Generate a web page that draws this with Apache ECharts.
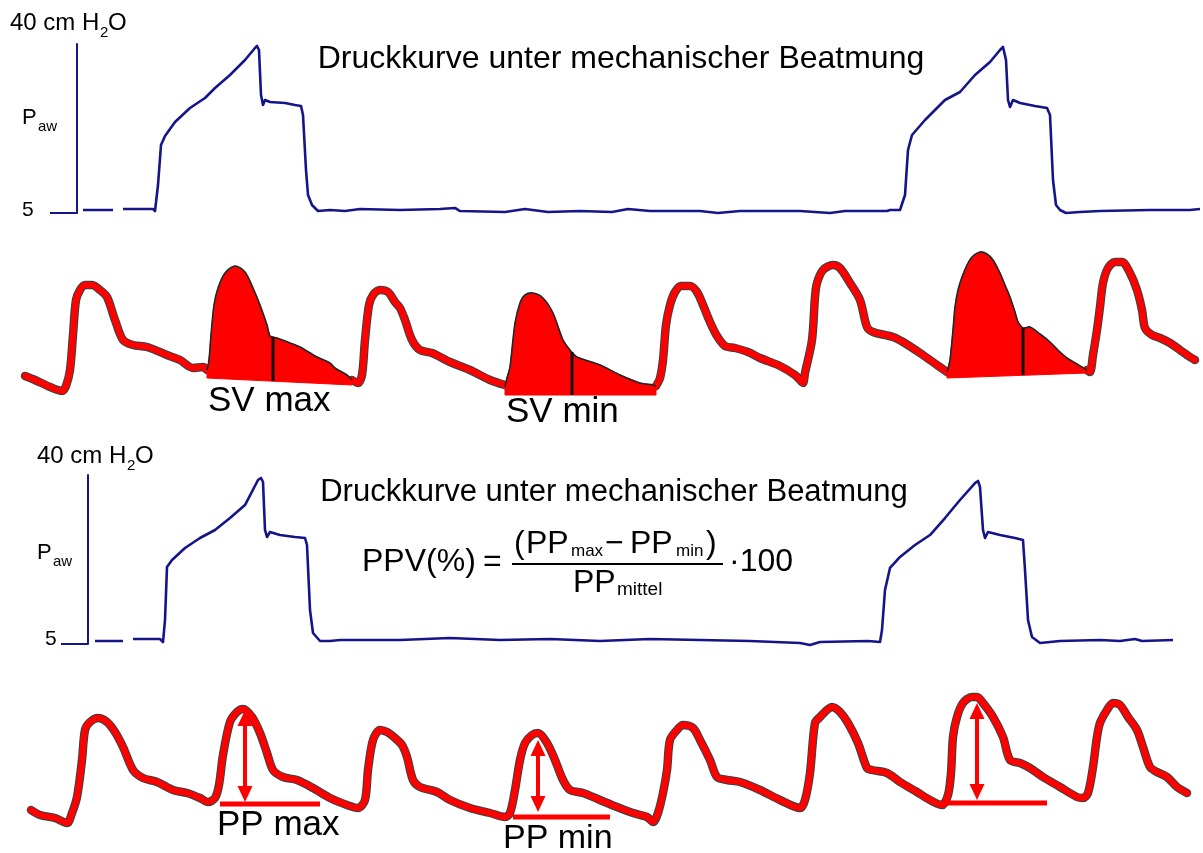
<!DOCTYPE html>
<html><head><meta charset="utf-8">
<script src="https://cdn.jsdelivr.net/npm/echarts@6/dist/echarts.min.js"></script>
<style>html,body{margin:0;padding:0;background:#fff}#c{width:1203px;height:853px}</style>
</head><body><div id="c"></div>
<script>
// ---- Data: time in s, airway pressure in cm H2O, arterial pressure in mmHg ----
const pawTop = [[0.83,5.62],[1.13,5.62],[1.18,'-'],[1.23,5.83],[1.53,5.83],[1.55,5.41],[1.58,10.80],[1.61,19.08],[1.65,20.95],[1.75,23.85],[1.90,26.75],[2.05,28.82],[2.15,30.89],[2.30,33.58],[2.45,36.69],[2.55,39.17],[2.57,39.59],[2.59,38.76],[2.61,29.44],[2.63,27.37],[2.65,28.40],[2.70,27.99],[2.85,27.78],[2.95,27.37],[3.01,27.16],[3.03,25.30],[3.06,13.91],[3.08,8.73],[3.12,6.66],[3.18,5.41],[3.30,5.62],[3.45,5.41],[3.60,5.83],[4.00,5.62],[4.40,5.83],[4.55,6.04],[4.60,5.41],[5.05,5.21],[5.25,5.83],[5.48,5.21],[5.80,5.41],[6.12,5.21],[6.28,5.83],[6.50,5.41],[7.00,5.41],[7.18,5.00],[7.40,5.41],[8.00,5.41],[8.30,5.00],[8.45,5.41],[8.87,5.41],[8.90,5.62],[9.00,5.62],[9.02,5.21],[9.05,8.73],[9.08,18.05],[9.12,21.15],[9.25,24.26],[9.45,28.40],[9.60,30.06],[9.75,33.58],[9.90,36.27],[10.00,38.76],[10.03,39.38],[10.06,36.69],[10.08,28.40],[10.10,26.95],[10.13,28.40],[10.20,27.78],[10.35,27.16],[10.47,26.75],[10.50,25.30],[10.53,11.83],[10.56,6.66],[10.60,5.62],[10.66,5.00],[10.80,5.21],[11.00,5.41],[11.50,5.62],[11.90,5.62],[12.00,5.83]];

const pawBottom = [[0.95,5.62],[1.23,5.62],[1.28,'-'],[1.33,6.04],[1.60,6.04],[1.63,5.41],[1.65,9.97],[1.67,20.95],[1.72,22.40],[1.85,24.88],[2.00,26.95],[2.15,28.61],[2.30,31.09],[2.45,33.78],[2.58,38.96],[2.61,39.38],[2.63,38.55],[2.65,28.61],[2.67,27.16],[2.70,28.19],[2.80,27.57],[2.95,27.16],[3.05,26.95],[3.07,25.50],[3.10,12.04],[3.13,7.28],[3.20,5.62],[3.30,5.62],[3.40,5.83],[4.00,5.83],[4.50,6.24],[5.00,5.83],[5.50,6.04],[6.00,5.62],[6.50,6.04],[7.00,5.83],[7.50,5.62],[8.00,5.21],[8.10,4.79],[8.20,5.41],[8.68,5.62],[8.70,5.83],[8.80,5.41],[8.82,7.90],[8.85,16.18],[8.90,20.74],[9.00,23.02],[9.15,25.50],[9.30,27.57],[9.45,31.09],[9.60,34.82],[9.75,38.34],[9.78,38.76],[9.80,37.51],[9.83,28.61],[9.85,26.95],[9.88,28.19],[10.00,27.57],[10.15,26.95],[10.23,26.54],[10.25,20.32],[10.28,9.97],[10.32,6.45],[10.40,5.21],[10.60,5.62],[11.00,5.83],[11.20,5.62],[11.35,6.04],[11.42,5.62],[11.73,5.83]];

// Arterial pressure (stroke volume panel), split into plain trace segments and shaded beats
const svSeg1 = [[0.25,72],[0.35,70],[0.50,66.5],[0.62,64.5],[0.66,67],[0.70,75],[0.73,92.5],[0.76,110],[0.80,115],[0.85,117.5],[0.92,117.5],[1.00,115],[1.07,111.5],[1.15,100],[1.23,90],[1.33,87.5],[1.47,86.5],[1.67,82.5],[1.80,80],[1.93,76],[2.03,76.5],[2.07,75]];
const svPulse1 = [[2.07,75],[2.09,80],[2.11,92.5],[2.14,107.5],[2.18,116],[2.25,123.5],[2.35,127],[2.45,124],[2.53,116],[2.60,107.5],[2.67,97.5],[2.70,92],[2.77,91],[2.90,88.5],[3.00,86.5],[3.17,81.5],[3.30,78.5],[3.35,76],[3.47,72.5],[3.52,70]];
const svBase1 = [[3.52,67.5],[2.07,71]];
const svDiv1 = [2.73,91.5,69.5];
const svSeg2 = [[3.52,70],[3.58,68.5],[3.62,72.5],[3.65,90],[3.69,107.5],[3.73,112.5],[3.80,115],[3.88,114],[3.95,109],[4.00,106],[4.05,100],[4.12,90],[4.20,85],[4.32,83.5],[4.50,79],[4.70,75],[4.90,70],[5.05,67.5]];
const svPulse2 = [[5.05,66.5],[5.07,71],[5.10,76.5],[5.15,98.5],[5.20,108.5],[5.25,112.5],[5.33,113.5],[5.43,111],[5.53,103.5],[5.63,90],[5.70,85],[5.77,81.5],[6.00,77.5],[6.20,72.5],[6.40,68.5],[6.53,67.5],[6.56,67]];
const svBase2 = [[6.56,62.5],[5.05,62.5]];
const svDiv2 = [5.72,84,62.5];
const svSeg3 = [[6.56,67],[6.60,71],[6.63,80],[6.66,97.5],[6.70,107.5],[6.75,114],[6.81,117],[6.90,117],[6.97,114],[7.03,107.5],[7.10,99],[7.17,92],[7.25,87],[7.35,86],[7.48,84],[7.60,81],[7.80,77],[7.95,72.5],[8.00,70],[8.03,68.5],[8.05,73.5],[8.12,90],[8.15,111.5],[8.17,118.5],[8.23,125],[8.33,127.5],[8.40,126],[8.50,118.5],[8.60,110],[8.67,96.5],[8.73,94],[8.93,91.5],[9.03,89],[9.20,83.5],[9.37,77.5],[9.47,74]];
const svPulse3 = [[9.47,74],[9.50,80],[9.53,95],[9.55,106.5],[9.58,115],[9.62,121.5],[9.67,127.5],[9.72,131.5],[9.80,134],[9.87,133],[9.93,130],[10.00,123.5],[10.05,117.5],[10.10,111.5],[10.15,104],[10.18,99],[10.23,96],[10.30,96.5],[10.40,93],[10.50,89],[10.60,84],[10.67,81],[10.77,78],[10.87,75]];
const svBase3 = [[10.87,73.5],[9.47,71]];
const svDiv3 = [10.23,96,72.5];
const svSeg4 = [[10.87,75],[10.90,74],[10.93,82.5],[10.97,95],[11.00,106.5],[11.03,118.5],[11.08,126],[11.15,129],[11.22,129],[11.30,123.5],[11.37,115],[11.42,105],[11.45,96],[11.52,92.5],[11.60,91],[11.70,88.5],[11.80,85],[11.90,81.5],[11.95,80]];

// Arterial pressure (pulse pressure panel)
const ppTrace = [[0.31,65],[0.40,62.5],[0.55,61],[0.67,58.5],[0.72,63.5],[0.77,71.5],[0.82,90],[0.85,105],[0.90,109],[0.98,111],[1.07,109],[1.15,104],[1.23,96.5],[1.33,85],[1.43,81],[1.57,79],[1.73,75],[1.87,73.5],[2.00,71],[2.08,69],[2.15,71],[2.19,77.5],[2.23,92.5],[2.30,109],[2.37,114],[2.43,115.5],[2.52,111.5],[2.60,103.5],[2.67,93.5],[2.73,85],[2.83,81.5],[2.97,80],[3.13,76],[3.30,71],[3.47,67.5],[3.58,66],[3.65,70],[3.68,85],[3.73,100],[3.80,105],[3.87,104],[3.95,101],[4.02,97.5],[4.07,91.5],[4.13,80],[4.20,76.5],[4.37,74],[4.50,70],[4.70,66],[4.90,63.5],[5.05,61.5],[5.10,63.5],[5.15,75],[5.20,90],[5.25,98.5],[5.32,102.5],[5.38,103.5],[5.47,98.5],[5.55,90],[5.63,80],[5.70,75],[5.83,73.5],[6.00,70],[6.17,66.5],[6.33,63.5],[6.47,61.5],[6.53,59],[6.58,63.5],[6.63,73.5],[6.67,85],[6.70,100],[6.77,105],[6.83,107.5],[6.93,106],[7.00,100],[7.10,90],[7.17,81.5],[7.27,80],[7.40,79],[7.60,75],[7.80,70],[8.00,66],[8.05,70],[8.10,83.5],[8.15,108.5],[8.20,111.5],[8.27,115],[8.32,116.5],[8.40,114],[8.48,108.5],[8.58,98.5],[8.67,86],[8.72,85],[8.87,83.5],[9.00,79],[9.17,74],[9.30,70],[9.42,67.5],[9.48,72.5],[9.51,83.5],[9.53,101.5],[9.57,111.5],[9.63,118.5],[9.72,121.5],[9.77,121.5],[9.83,118.5],[9.93,111.5],[10.03,101.5],[10.10,90],[10.20,88.5],[10.30,86],[10.43,81.5],[10.60,76.5],[10.77,71.5],[10.83,71],[10.88,73.5],[10.93,86.5],[10.97,101.5],[11.00,108.5],[11.07,115],[11.13,118.5],[11.20,117.5],[11.28,111.5],[11.37,105],[11.43,96.5],[11.50,86.5],[11.57,84],[11.67,81.5],[11.77,76.5],[11.87,73.5]];
const ppArrows = [[2.45,115,69],[5.38,100,64],[9.77,118.5,70]];   // [t, systolic, diastolic]
const ppLines  = [[2.20,3.20,68],[5.13,6.10,61.5],[9.47,10.47,68.5]]; // [t start, t end, diastolic]

// Axis tick values
const pawTicks = [5];

// ---- styling ----
const BLUE = '#15158a', RED = '#ff0000', EDGE = '#2c4746', INK = '#000';
const FONT = '"Liberation Sans", Arial, sans-serif';
const SMOOTH = 0.3;

function joinSegs(segs){
  const out = [];
  segs.forEach((s, i) => { if (i) out.push([s[0][0], '-']); s.forEach(p => out.push(p)); });
  return out;
}
const svTrace = joinSegs([svSeg1, svSeg2, svSeg3, svSeg4]);
const svPulses = [
  {curve: svPulse1, base: svBase1, div: svDiv1},
  {curve: svPulse2, base: svBase2, div: svDiv2},
  {curve: svPulse3, base: svBase3, div: svDiv3}
];

function T(text, x, y, size, align){
  return {type:'text', x:x, y:y, z:100, style:{text:text, font: size + 'px ' + FONT, fill: INK,
    textAlign: align || 'left', textVerticalAlign:'middle'}};
}

const chart = echarts.init(document.getElementById('c'), null, {renderer:'canvas'});

const blueY = (i) => ({type:'value', gridIndex:i, min:5, max:40,
  axisLine:{show:true, onZero:false, lineStyle:{color:BLUE, width:2}},
  axisTick:{show:true, length:27, customValues: pawTicks, lineStyle:{color:BLUE, width:2}},
  axisLabel:{show:false}, splitLine:{show:false}});

const redLine = (xi, data, color, width, z) => ({type:'line', xAxisIndex:xi, yAxisIndex:xi, data:data,
  showSymbol:false, clip:false, z:z, smooth:SMOOTH, connectNulls:false,
  lineStyle:{color:color, width:width, cap:'round', join:'round'}});

const option = {
  animation:false,
  backgroundColor:'#fff',
  grid:[
    {left:77, right:0, top:44, height:169},
    {left:0, right:0, top:240, height:160},
    {left:88, right:0, top:475, height:169},
    {left:0, right:0, top:680, height:160}
  ],
  xAxis:[
    {type:'value', gridIndex:0, min:0.77, max:12.03, show:false},
    {type:'value', gridIndex:1, min:0, max:12.03, show:false},
    {type:'value', gridIndex:2, min:0.88, max:12.03, show:false},
    {type:'value', gridIndex:3, min:0, max:12.03, show:false}
  ],
  yAxis:[
    blueY(0),
    {type:'value', gridIndex:1, min:60, max:140, show:false},
    blueY(2),
    {type:'value', gridIndex:3, min:50, max:130, show:false}
  ],
  series:[
    {type:'line', xAxisIndex:0, yAxisIndex:0, data:pawTop, showSymbol:false, clip:false,
      lineStyle:{color:BLUE, width:2.6, join:'round'}},
    {type:'line', xAxisIndex:2, yAxisIndex:2, data:pawBottom, showSymbol:false, clip:false,
      lineStyle:{color:BLUE, width:2.6, join:'round'}},
    // SV panel trace: dark rim + red core
    redLine(1, svTrace, EDGE, 8.5, 2),
    redLine(1, svTrace, RED, 6.5, 3),
    // shaded beats
    {type:'custom', xAxisIndex:1, yAxisIndex:1, z:4,
      data: svPulses.map(p => [p.div[0], p.div[1]]),
      renderItem: function(params, api){
        const p = svPulses[params.dataIndex];
        const top = p.curve.map(d => api.coord(d));
        const base = p.base.map(d => api.coord(d));
        const a = api.coord([p.div[0], p.div[1]]), b = api.coord([p.div[0], p.div[2]]);
        return {type:'group', children:[
          {type:'polygon', shape:{points: top.concat(base)}, style:{fill:RED, stroke:RED, lineWidth:1}},
          {type:'polyline', shape:{points: top, smooth:SMOOTH}, style:{stroke:'#1b2a2a', lineWidth:1.6, fill:null}},
          {type:'line', shape:{x1:a[0], y1:a[1], x2:b[0], y2:b[1]}, style:{stroke:'#111', lineWidth:3}}
        ]};
      }},
    // PP panel trace
    redLine(3, ppTrace, EDGE, 8.5, 2),
    redLine(3, ppTrace, RED, 6.5, 3),
    // diastolic reference lines
    {type:'custom', xAxisIndex:3, yAxisIndex:3, z:5, data: ppLines,
      renderItem: function(params, api){
        const a = api.coord([api.value(0), api.value(2)]), b = api.coord([api.value(1), api.value(2)]);
        return {type:'line', shape:{x1:a[0], y1:a[1], x2:b[0], y2:b[1]}, style:{stroke:RED, lineWidth:5}};
      }},
    // double arrows
    {type:'custom', xAxisIndex:3, yAxisIndex:3, z:6, data: ppArrows,
      renderItem: function(params, api){
        const t = api.coord([api.value(0), api.value(1)]), b = api.coord([api.value(0), api.value(2)]);
        const x = t[0], hl = 16, hw = 7.5;
        return {type:'group', children:[
          {type:'line', shape:{x1:x, y1:t[1]+hl-1, x2:x, y2:b[1]-hl+1}, style:{stroke:RED, lineWidth:4}},
          {type:'polygon', shape:{points:[[x, t[1]], [x-hw, t[1]+hl], [x+hw, t[1]+hl]]}, style:{fill:RED}},
          {type:'polygon', shape:{points:[[x, b[1]], [x-hw, b[1]-hl], [x+hw, b[1]-hl]]}, style:{fill:RED}}
        ]};
      }}
  ],
  graphic:[
    // panel 1 labels
    T('40 cm H', 10, 23, 24), T('2', 100, 33, 15), T('O', 108, 23, 24),
    T('P', 22, 118, 22), T('aw', 38, 127, 15),
    T('5', 22, 210, 21),
    T('Druckkurve unter mechanischer Beatmung', 621, 59, 32, 'center'),
    // SV labels
    T('SV max', 208, 401, 35), T('SV min', 506, 412, 35),
    // panel 3 labels
    T('40 cm H', 37, 456, 24), T('2', 127, 466, 15), T('O', 135, 456, 24),
    T('P', 37, 553, 22), T('aw', 53, 562, 15),
    T('5', 45, 639, 21),
    T('Druckkurve unter mechanischer Beatmung', 614, 492, 31, 'center'),
    // formula
    T('PPV(%)', 362, 562, 32), T('=', 483, 562, 32),
    T('(', 514, 544, 32), T('PP', 526, 544, 32), T('max', 571, 551, 17),
    T('\u2212', 605, 544, 32), T('PP', 630, 544, 32), T('min', 676, 551, 17), T(')', 706, 544, 32),
    {type:'line', z:100, shape:{x1:512, y1:564, x2:723, y2:564}, style:{stroke:INK, lineWidth:2}},
    T('PP', 573, 583, 32), T('mittel', 617, 590, 19),
    T('\u00b7100', 729, 562, 32),
    // PP labels
    T('PP max', 217, 825, 35), T('PP min', 503, 839, 34)
  ]
};
chart.setOption(option);
</script></body></html>
